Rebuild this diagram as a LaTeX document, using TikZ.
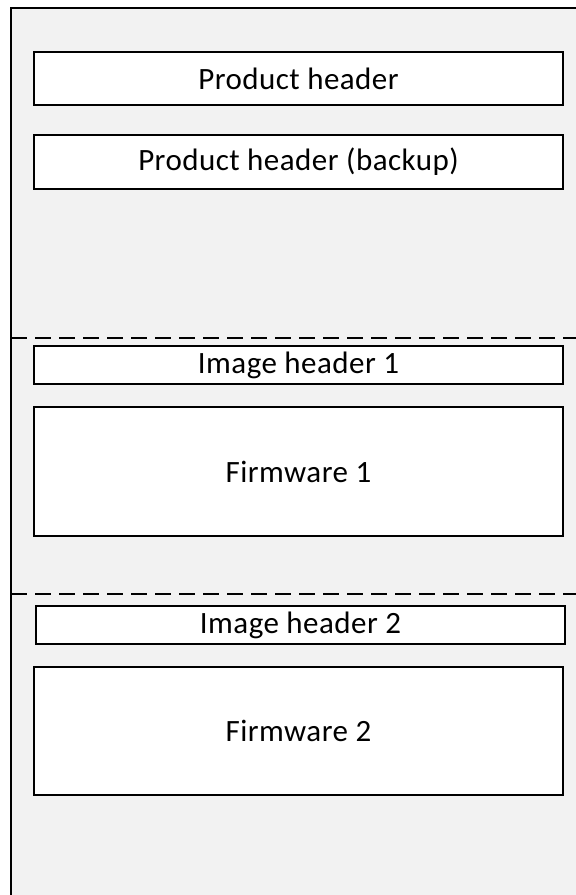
\documentclass[tikz,border=0pt]{standalone}
\usepackage{fontspec}
\setmainfont{Carlito}[LetterSpace=1.5]
\definecolor{bgray}{HTML}{F2F2F2}
\begin{document}
\begin{tikzpicture}[x=1pt,y=-1pt,
  box/.style={draw=black,fill=white,line width=2pt,inner sep=0pt,outer sep=0pt,
    minimum width=529pt,font=\fontsize{31}{37}\selectfont},
  sep/.style={draw=black,line width=2pt,dash pattern=on 16pt off 8pt}]
\useasboundingbox (0,0) rectangle (576,895);
\fill[bgray] (11,8) rectangle (580,900);
\draw[line width=2pt] (11,900) -- (11,8) -- (580,8);
\node[box,minimum height=53pt] (ph) at (298.5,78.5) {Product header};
\node[box,minimum height=54pt] (phb) at (298.5,162) {Product header (backup)};
\coordinate (d1a) at (11,338);
\coordinate (d1b) at (580,338);
\draw[sep] (d1a) -- (d1b);
\node[box,minimum height=38pt] (ih1) at (298.5,365) {Image header 1};
\node[box,minimum height=129pt] (fw1) at (298.5,471.5) {Firmware 1};
\coordinate (d2a) at (11,594);
\coordinate (d2b) at (580,594);
\draw[sep] (d2a) -- (d2b);
\node[box,minimum height=38pt] (ih2) at (300.5,625) {Image header 2};
\node[box,minimum height=128pt] (fw2) at (298.5,731) {Firmware 2};
\end{tikzpicture}
\end{document}
